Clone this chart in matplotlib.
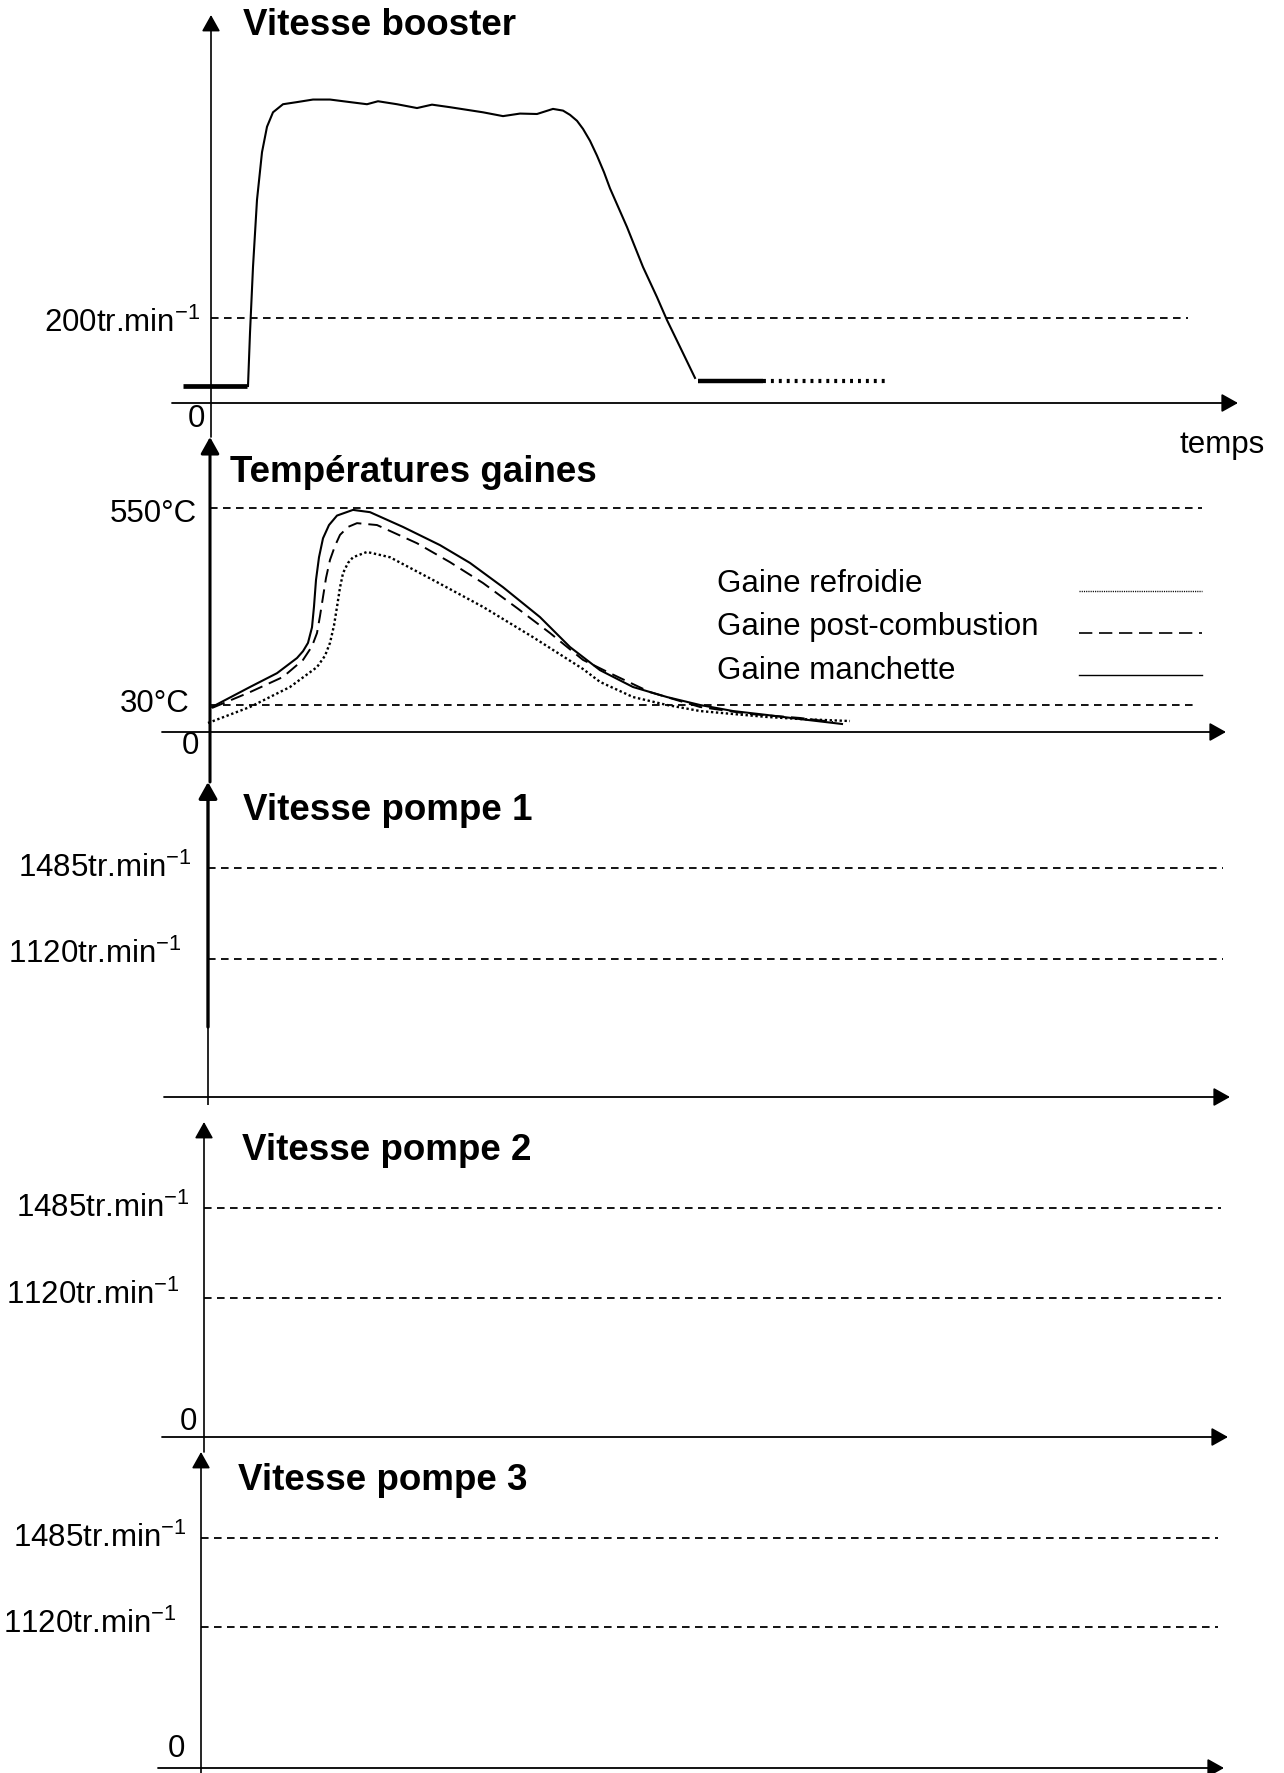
import numpy as np
import matplotlib
matplotlib.use("Agg")
import matplotlib.pyplot as plt

plt.rcParams["font.family"] = ["Liberation Sans", "DejaVu Sans"]
plt.rcParams["mathtext.fontset"] = "custom"
plt.rcParams["mathtext.rm"] = "Liberation Sans"
plt.rcParams["mathtext.default"] = "regular"

# ---------------- data (time in arbitrary units, t=0 at the vertical axis) ----------------
booster_t = [3.7, 3.9, 4.2, 4.6, 5.1, 5.6, 6.2, 7.2, 8.6, 10.2, 11.9, 13.9, 15.6, 16.7,
             18.6, 20.6, 22.1, 23.9, 27.2, 29.2, 30.9, 32.6, 34.2, 35.2, 35.9, 36.6, 37.2,
             37.9, 38.6, 39.3, 39.9, 41.6, 43.2, 44.6, 45.6, 46.9, 48.4]
booster_v = [40, 165, 320, 478, 590, 650, 684, 703, 708, 714, 714, 708, 703, 710,
             703, 694, 702, 696, 684, 675, 681, 680, 692, 688, 678, 664, 645,
             617, 582, 543, 505, 414, 320, 249, 195, 132, 59]
booster_idle_before_t = [-2.8, 3.6]
booster_idle_before_v = [40, 40]
booster_idle_after_t = [48.7, 55.2]
booster_idle_after_v = [52, 52]
booster_idle_future_t = [55.2, 67.7]
booster_idle_future_v = [52, 52]
booster_levels = [200]
booster_labels = ["200tr.min$^{-1}$"]

manchette_t = [0.2, 4.0, 6.7, 8.7, 9.3, 9.8, 10.2, 10.4, 10.6, 10.9, 11.3, 11.9, 12.7,
               14.3, 16.0, 19.3, 23.0, 26.0, 29.3, 33.0, 36.0, 39.0, 42.3, 45.7, 49.0,
               52.3, 55.7, 59.0, 63.2]
manchette_v = [27.8, 77.5, 114, 154, 172, 194, 235, 290, 360, 420, 470, 505, 530,
               545, 539, 500, 452, 405, 341, 262, 183, 122, 77.5, 51, 30,
               23.3, 18.9, 14.4, 8.9]
postcomb_t = [0.2, 4.0, 7.3, 9.3, 10.2, 10.7, 11.0, 11.3, 11.6, 12.0, 12.5, 13.0, 13.8,
              14.7, 16.7, 20.7, 24.0, 27.3, 30.7, 34.0, 37.3, 40.0, 44.0, 49.0, 54.0,
              59.0, 62.3]
postcomb_v = [26.7, 64, 104, 149, 185, 220, 265, 315, 365, 413, 450, 479, 500,
              510, 505, 457, 407, 352, 286, 220, 149, 114, 64, 27.8, 20,
              15.6, 11.1]
refroidie_t = [-0.2, 4.0, 8.0, 10.7, 11.5, 12.0, 12.4, 12.7, 13.0, 13.3, 13.8, 14.3,
               15.7, 18.0, 22.3, 27.3, 32.3, 37.3, 39.0, 42.3, 44.0, 45.7, 49.0, 52.3,
               55.7, 59.0, 64.0]
refroidie_v = [10, 27.8, 77.5, 130, 160, 194, 240, 289, 340, 378, 405, 420,
               434, 420, 360, 289, 209, 125, 91, 51, 40.5, 30, 23.3, 20,
               16.7, 14.4, 12.2]
temp_levels = [30, 550]
temp_labels = ["30°C", "550°C"]
legend_labels = ["Gaine refroidie", "Gaine post-combustion", "Gaine manchette"]

pump_levels = [1120, 1485]
pump_labels = ["1120tr.min$^{-1}$", "1485tr.min$^{-1}$"]
pump_titles = ["Vitesse pompe 1", "Vitesse pompe 2", "Vitesse pompe 3"]

# ---------------- layout ----------------
W, H = 1284, 1773
PX = 10.0  # pixels per time unit
fig = plt.figure(figsize=(W / 100, H / 100), dpi=100)
fig.patch.set_facecolor("white")

TITLE_FS = 26.5
FS = 22.5
DASH = (0, (4.2, 3.0))


def piecewise(vals, hts):
    vals = np.asarray(vals, float)
    hts = np.asarray(hts, float)

    def make(a, b):
        s0 = (b[1] - b[0]) / (a[1] - a[0])
        s1 = (b[-1] - b[-2]) / (a[-1] - a[-2])

        def f(v):
            v = np.asarray(v, float)
            out = np.interp(v, a, b)
            out = np.where(v < a[0], b[0] + (v - a[0]) * s0, out)
            out = np.where(v > a[-1], b[-1] + (v - a[-1]) * s1, out)
            return out
        return f
    return make(vals, hts), make(hts, vals)


def panel(bottom, top, x0, vals, hts):
    ax = fig.add_axes([0, 1 - bottom / H, 1, (bottom - top) / H])
    fwd, inv = piecewise(vals, hts)
    ax.set_yscale("function", functions=(fwd, inv))
    ax.set_xlim(-x0 / PX, (W - x0) / PX)
    ax.set_ylim(0, float(inv(bottom - top)))
    ax.axis("off")
    ax.patch.set_alpha(0)
    return ax


def arrow(ax, start, end, lw):
    tr = ax.get_xaxis_transform()
    ax.annotate("", xy=end, xytext=start, xycoords=tr, textcoords=tr,
                annotation_clip=False,
                arrowprops=dict(arrowstyle="-|>,head_length=0.5,head_width=0.28",
                                lw=lw, color="black", shrinkA=0, shrinkB=0,
                                mutation_scale=20))


def vline(ax, y0, y1, lw):
    tr = ax.get_xaxis_transform()
    ax.plot([0, 0], [y0, y1], color="black", lw=lw, transform=tr, clip_on=False,
            solid_capstyle="butt")


def label(ax, txt, y, dx, dy, x=0):
    ax.annotate(txt, xy=(x, y), xytext=(dx, dy), textcoords="offset pixels",
                ha="right", va="baseline", fontsize=FS, annotation_clip=False)


def title(ax, txt, t, yf):
    ax.text(t, yf, txt, transform=ax.get_xaxis_transform(), fontsize=TITLE_FS,
            fontweight="bold", ha="left", va="baseline")


def ref_line(ax, lvl, t_end):
    ax.plot([0, t_end], [lvl, lvl], color="black", lw=1.3, ls=DASH, clip_on=False)


# ---------------- panel 1 : booster ----------------
b, t_, x0 = 403, 15, 211
ax1 = panel(b, t_, x0, [0, 200], [0, 85])
arrow(ax1, (0, (b - 437) / (b - t_)), (0, 1), 1.2)
arrow(ax1, ((172 - x0) / PX, 0), ((1238 - x0) / PX, 0), 1.3)
ref_line(ax1, booster_levels[0], (1188 - x0) / PX)
label(ax1, booster_labels[0], booster_levels[0], -11, -14)
label(ax1, "0", 0, -6, -24)
title(ax1, "Vitesse booster", (243 - x0) / PX, (b - 35) / (b - t_))
ax1.plot(booster_idle_before_t, booster_idle_before_v, color="black", lw=3.4,
         solid_capstyle="butt", clip_on=False)
ax1.plot(booster_t, booster_v, color="black", lw=1.5, clip_on=False,
         solid_joinstyle="round")
ax1.plot(booster_idle_after_t, booster_idle_after_v, color="black", lw=3.2,
         solid_capstyle="butt", clip_on=False)
ax1.plot(booster_idle_future_t, booster_idle_future_v, color="black", lw=3.0,
         ls=(0, (0.7, 1.2)), clip_on=False)
ax1.text((1180 - x0) / PX, (b - 453) / (b - t_), "temps", fontsize=FS,
         transform=ax1.get_xaxis_transform(), ha="left", va="baseline")

# ---------------- panel 2 : temperatures ----------------
b, t_, x0 = 732, 437, 210
ax2 = panel(b, t_, x0, [0, 30, 550], [0, 27, 224])
arrow(ax2, (0, (b - 782) / (b - t_)), (0, 1), 2.2)
arrow(ax2, ((162 - x0) / PX, 0), ((1226 - x0) / PX, 0), 1.3)
ref_line(ax2, temp_levels[1], (1202 - x0) / PX)
ref_line(ax2, temp_levels[0], (1196 - x0) / PX)
label(ax2, temp_labels[1], temp_levels[1], -13, -14)
label(ax2, temp_labels[0], temp_levels[0], -20, -7)
label(ax2, "0", 0, -11, -22)
title(ax2, "Températures gaines", (230 - x0) / PX, (b - 482) / (b - t_))
ls_dot = (0, (1.0, 1.1))
ls_dash = (0, (7.0, 3.6))
ax2.plot(refroidie_t, refroidie_v, color="black", lw=1.7, ls=ls_dot, clip_on=False)
ax2.plot(postcomb_t, postcomb_v, color="black", lw=1.4, ls=ls_dash, clip_on=False)
ax2.plot(manchette_t, manchette_v, color="black", lw=1.5, clip_on=False,
         solid_joinstyle="round")
# hand-drawn legend: labels on the left, samples on the right
tr2 = ax2.get_xaxis_transform()
leg_text_y = [(b - 592) / (b - t_), (b - 635) / (b - t_), (b - 679) / (b - t_)]
leg_line_y = [(b - 591) / (b - t_), (b - 633) / (b - t_), (b - 675) / (b - t_)]
leg_styles = [dict(ls=(0, (0.8, 0.8)), lw=1.0), dict(ls=(0, (8.0, 4.0)), lw=1.2),
              dict(ls="-", lw=1.0)]
for lab, ty, ly, st in zip(legend_labels, leg_text_y, leg_line_y, leg_styles):
    ax2.text((717 - x0) / PX, ty, lab, transform=tr2, fontsize=FS, ha="left",
             va="baseline")
    ax2.plot([(1079 - x0) / PX, (1202 - x0) / PX], [ly, ly], transform=tr2,
             color="black", clip_on=False, **st)

# ---------------- pump panels ----------------
pump_geo = [
    dict(b=1097, t=782, x0=208, h=[138, 229], xa=(164, 1230), le=1223, ttl=(243, 820),
         lab=[(-26, -4), (-16, -9)], zero=None),
    dict(b=1437, t=1122, x0=204, h=[139, 229], xa=(162, 1228), le=1221, ttl=(242, 1160),
         lab=[(-24, -6), (-14, -9)], zero=(-7, 7)),
    dict(b=1768, t=1452, x0=201, h=[141, 230], xa=(158, 1224), le=1218, ttl=(238, 1490),
         lab=[(-24, -6), (-14, -9)], zero=(-16, 11)),
]
for i, g in enumerate(pump_geo):
    b, t_, x0 = g["b"], g["t"], g["x0"]
    ax = panel(b, t_, x0, [0] + pump_levels, [0] + g["h"])
    hgt = b - t_
    if i == 0:
        arrow(ax, (0, (b - 1027) / hgt), (0, 1), 2.4)
        vline(ax, (b - 1105) / hgt, (b - 1027) / hgt, 1.2)
    elif i == 1:
        arrow(ax, (0, (b - 1452) / hgt), (0, 1), 1.2)
    else:
        arrow(ax, (0, (b - H) / hgt), (0, 1), 1.2)
    arrow(ax, ((g["xa"][0] - x0) / PX, 0), ((g["xa"][1] - x0) / PX, 0), 1.3)
    for lvl, txt, (dx, dy) in zip(pump_levels, pump_labels, g["lab"]):
        ref_line(ax, lvl, (g["le"] - x0) / PX)
        label(ax, txt, lvl, dx, dy)
    if g["zero"] is not None:
        label(ax, "0", 0, *g["zero"])
    title(ax, pump_titles[i], (g["ttl"][0] - x0) / PX, (b - g["ttl"][1]) / hgt)

fig.savefig("out.png", dpi=100, facecolor="white")
